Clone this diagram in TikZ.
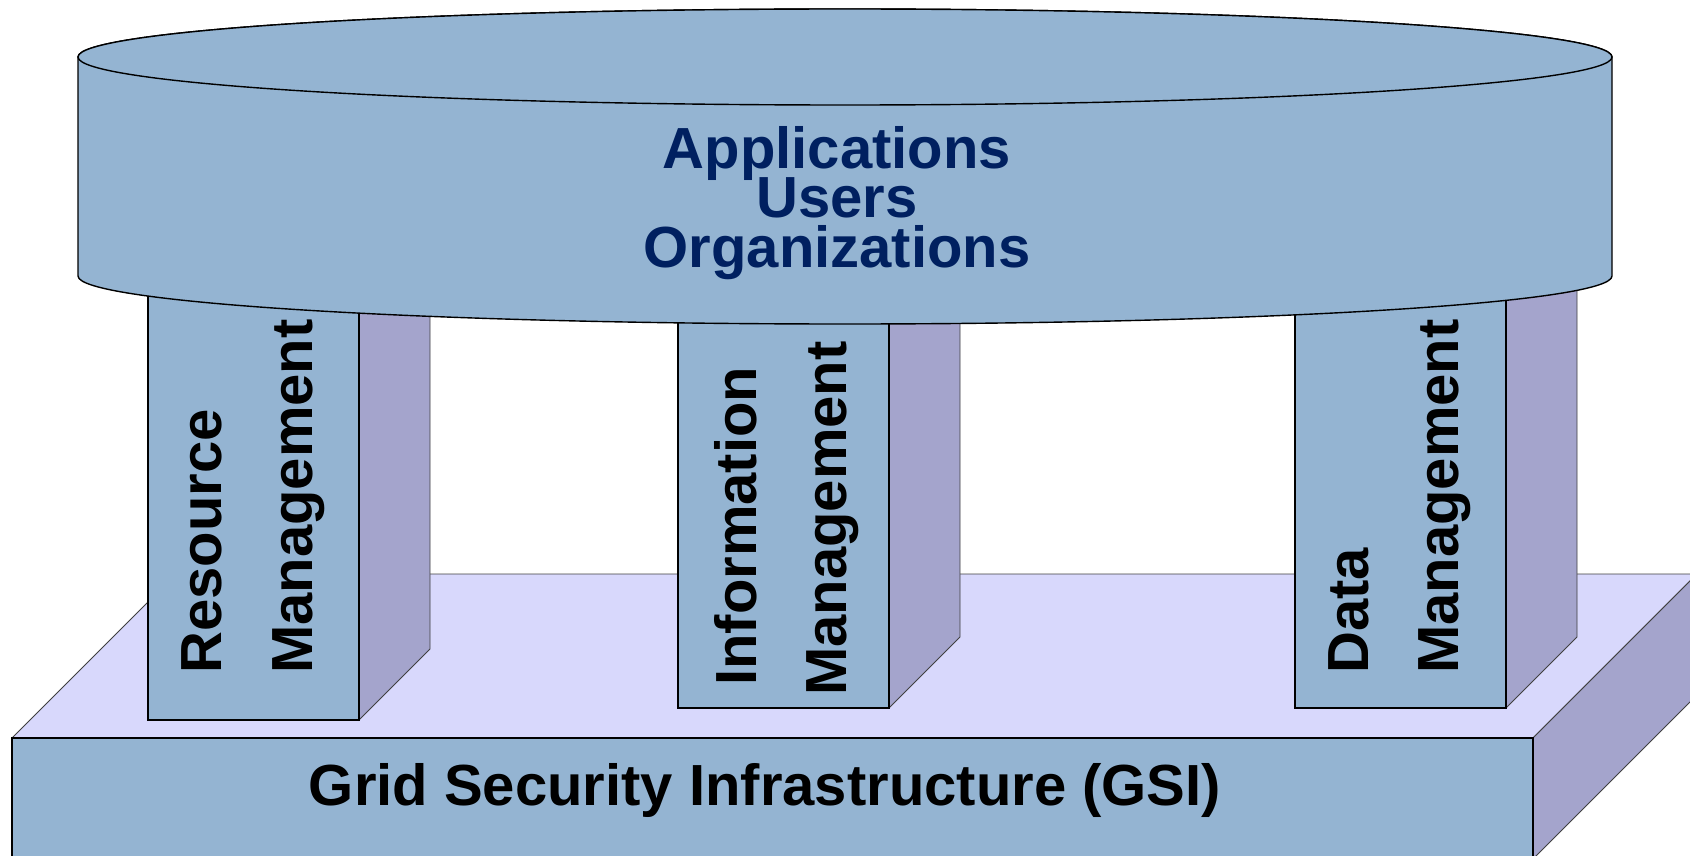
\documentclass[tikz,border=0pt]{standalone}
\usepackage{fontspec}
\setmainfont{Liberation Sans}
\definecolor{faceblue}{RGB}{148,180,210}
\definecolor{sidepurple}{RGB}{164,164,204}
\definecolor{toplilac}{RGB}{216,216,252}
\definecolor{navytext}{RGB}{0,32,96}
\begin{document}
\begin{tikzpicture}[x=1pt,y=-1pt,
  frontface/.style={fill=faceblue,draw=black,line width=1.4pt},
  sideface/.style={fill=sidepurple,draw=black!75,line width=0.9pt},
  topface/.style={fill=toplilac,draw=black!75,line width=0.9pt},
  bigtext/.style={inner sep=0pt,anchor=base,font=\bfseries\fontsize{58pt}{58pt}\selectfont},
  pillartext/.style={bigtext,rotate=90,anchor=base west}]
\clip (0,0) rectangle (1690,856);
\fill[white] (0,0) rectangle (1690,856);

% base slab (GSI)
\draw[topface] (12,738) -- (176,574) -- (1697,574) -- (1533,738) -- cycle;
\draw[sideface] (1533,738) -- (1697,574) -- (1697,695) -- (1533,859) -- cycle;
\draw[frontface] (12,859) -- (12,738) -- (1533,738) -- (1533,859);

% pillars
\draw[sideface] (359,280) -- (430,209) -- (430,649) -- (359,720) -- cycle;
\draw[frontface] (148,280) rectangle (359,720);
\draw[sideface] (889,280) -- (960,209) -- (960,637) -- (889,708) -- cycle;
\draw[frontface] (678,280) rectangle (889,708);
\draw[sideface] (1506,280) -- (1577,209) -- (1577,637) -- (1506,708) -- cycle;
\draw[frontface] (1295,280) rectangle (1506,708);

% cylinder on top
\draw[fill=faceblue,draw=black,line width=1.4pt]
  (78,57) -- (78,276) arc[start angle=180,end angle=360,x radius=767pt,y radius=48pt]
  -- (1612,57) arc[start angle=0,end angle=180,x radius=767pt,y radius=48pt] -- cycle;
\draw[fill=faceblue,draw=black,line width=1.4pt] (845,57) ellipse[x radius=767pt,y radius=48pt];

% labels
\node[bigtext,text=navytext] (apps) at (837,168) {Applications};
\node[bigtext,text=navytext] (users) at (837,218) {Users};
\node[bigtext,text=navytext] (orgs) at (837,267) {Organizations};

\node[pillartext] (resA) at (221,674) {Resource};
\node[pillartext] (resB) at (312,674) {Management};
\node[pillartext] (infA) at (756,686) {Information};
\node[pillartext] (infB) at (846,696) {Management};
\node[pillartext] (datA) at (1368,674) {Data};
\node[pillartext] (datB) at (1458,674) {Management};

\node[bigtext] (gsi) at (765,805) {Grid Security Infrastructure (GSI)};
\end{tikzpicture}
\end{document}
